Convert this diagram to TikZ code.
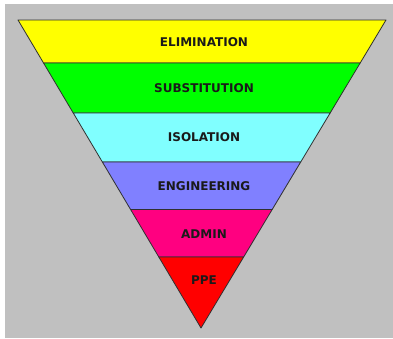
\documentclass[tikz,border=0pt]{standalone}
\usepackage{fontspec}
\setmainfont{DejaVu Sans}
\usetikzlibrary{calc}
\definecolor{bg}{HTML}{C0C0C0}
\definecolor{edge}{HTML}{303030}
\definecolor{txt}{HTML}{1A1A1A}
\definecolor{c1}{HTML}{FFFF00}
\definecolor{c2}{HTML}{00FF00}
\definecolor{c3}{HTML}{80FFFF}
\definecolor{c4}{HTML}{8080FF}
\definecolor{c5}{HTML}{FF0080}
\definecolor{c6}{HTML}{FF0000}
\begin{document}
\begin{tikzpicture}[x=1pt,y=-1pt,
  band/.style={draw=edge, line width=0.8pt, line join=round},
  lbl/.style={font=\bfseries\fontsize{12}{14}\selectfont, text=txt, inner sep=0pt}]
\useasboundingbox (0,0) rectangle (393,338);
\fill[white] (0,0) rectangle (393,338);
\fill[bg] (5,4) rectangle (393,338);
\coordinate (L) at (18,20);
\coordinate (R) at (386,20);
\coordinate (A) at (201,328);
\foreach \n/\t in {1/0.1396,2/0.3019,3/0.4610,4/0.6153,5/0.7695}{
  \coordinate (L\n) at ($(L)!\t!(A)$);
  \coordinate (R\n) at ($(R)!\t!(A)$);
}
\filldraw[band, fill=c1] (L) -- (R) -- (R1) -- (L1) -- cycle;
\filldraw[band, fill=c2] (L1) -- (R1) -- (R2) -- (L2) -- cycle;
\filldraw[band, fill=c3] (L2) -- (R2) -- (R3) -- (L3) -- cycle;
\filldraw[band, fill=c4] (L3) -- (R3) -- (R4) -- (L4) -- cycle;
\filldraw[band, fill=c5] (L4) -- (R4) -- (R5) -- (L5) -- cycle;
\filldraw[band, fill=c6] (L5) -- (R5) -- (A) -- cycle;
\node[lbl] (t1) at (204,42) {ELIMINATION};
\node[lbl] (t2) at (204,88) {SUBSTITUTION};
\node[lbl] (t3) at (204,137) {ISOLATION};
\node[lbl] (t4) at (204,186) {ENGINEERING};
\node[lbl] (t5) at (204,234) {ADMIN};
\node[lbl] (t6) at (204,280) {PPE};
\end{tikzpicture}
\end{document}
